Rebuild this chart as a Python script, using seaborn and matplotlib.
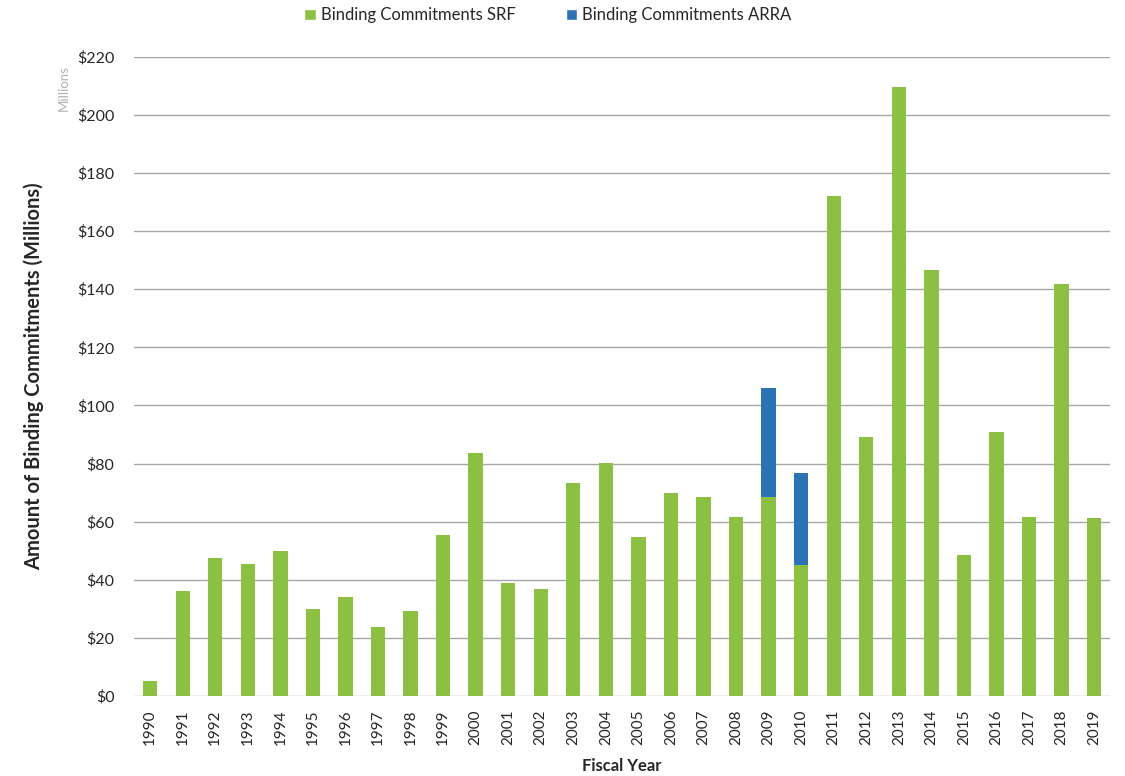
import numpy as np
import pandas as pd
import matplotlib
matplotlib.use("Agg")
import matplotlib.pyplot as plt
from matplotlib.patches import Patch
import seaborn as sns

years = [str(y) for y in range(1990, 2020)]
srf = [5.2, 36.2, 47.4, 45.3, 50.0, 29.9, 34.1, 23.7, 29.2, 55.5,
       83.8, 39.0, 36.9, 73.4, 80.1, 54.8, 70.0, 68.6, 61.7, 68.6,
       45.1, 172.1, 89.3, 209.4, 146.6, 48.5, 90.7, 61.7, 141.7, 61.2]
arra = [0, 0, 0, 0, 0, 0, 0, 0, 0, 0,
        0, 0, 0, 0, 0, 0, 0, 0, 0, 37.3,
        31.8, 0, 0, 0, 0, 0, 0, 0, 0, 0]
yticks = list(range(0, 221, 20))
ytick_labels = [f"${v}" for v in yticks]

green = "#8CC043"
blue = "#2C73B6"

sns.set_theme(style="white")
plt.rcParams['font.family'] = ['Lato', 'DejaVu Sans']

df = pd.DataFrame({"year": years, "srf": srf, "arra": arra})
df["total"] = df["srf"] + df["arra"]

fig = plt.figure(figsize=(11.25, 7.76), dpi=100)
ax = fig.add_axes([0.119, 0.103, 0.868, 0.824])

sns.barplot(data=df, x="year", y="total", color=blue, width=0.44,
            saturation=1, ax=ax, zorder=3, linewidth=0)
sns.barplot(data=df, x="year", y="srf", color=green, width=0.44,
            saturation=1, ax=ax, zorder=4, linewidth=0)

ax.set_ylim(0, 220)
ax.set_xlim(-0.5, len(years) - 0.5)
ax.set_yticks(yticks)
ax.set_yticklabels(ytick_labels, fontsize=11.5, color="#262626")
ax.tick_params(axis="x", labelrotation=90, labelsize=11, colors="#262626",
               length=0, pad=10)
ax.tick_params(axis="y", length=0, pad=14)
ax.yaxis.grid(True, color="#A6A6A6", linewidth=1.0, zorder=0)
ax.set_axisbelow(True)
for s in ax.spines.values():
    s.set_visible(False)

ax.set_xlabel("Fiscal Year", fontsize=12, fontweight="bold", color="#262626",
              labelpad=9)
ax.set_ylabel("Amount of Binding Commitments (Millions)", fontsize=14.5,
              fontweight="bold", color="#262626", labelpad=24)

fig.text(0.057, 0.887, "Millions", rotation=90, fontsize=9.5, color="#B0B0B0",
         ha="center", va="center")

handles = [Patch(facecolor=green, label="Binding Commitments SRF"),
           Patch(facecolor=blue, label="Binding Commitments ARRA")]
fig.legend(handles=handles, loc="upper center", bbox_to_anchor=(0.487, 1.01),
           ncol=2, frameon=False, fontsize=12, handlelength=0.7,
           handleheight=0.7, handletextpad=0.3, columnspacing=3.0)

fig.savefig("out.png", dpi=100, facecolor="white")
